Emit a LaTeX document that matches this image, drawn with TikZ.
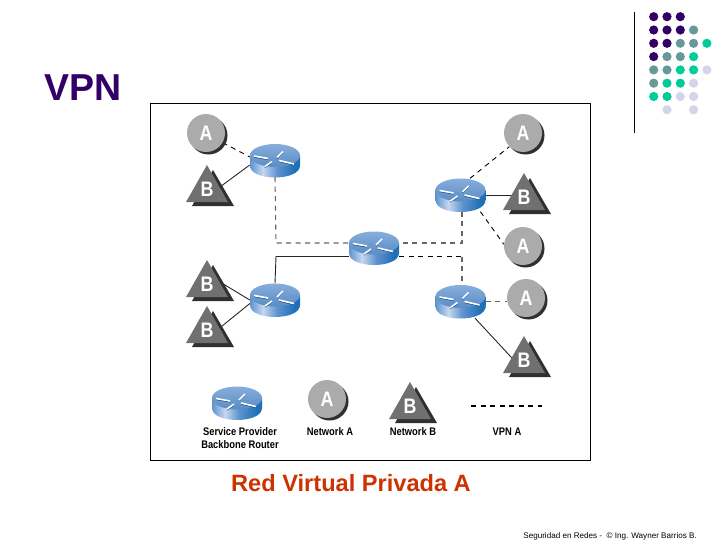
\documentclass[tikz,border=0pt]{standalone}
\usepackage{fontspec}
\usetikzlibrary{backgrounds}
\setmainfont{Liberation Sans}
\newfontfamily\narrowfont[FakeStretch=.85]{Liberation Sans}
\definecolor{titleink}{HTML}{330066}
\definecolor{dotteal}{HTML}{669999}
\definecolor{dotgreen}{HTML}{00CC99}
\definecolor{dotlilac}{HTML}{D4D4EA}
\definecolor{redink}{HTML}{CC3300}
\definecolor{circgray}{HTML}{ABABAB}
\definecolor{trigray}{HTML}{707070}
\definecolor{shadowink}{HTML}{303030}
\definecolor{coreink}{HTML}{666666}
\definecolor{routerdark}{HTML}{1F6FB8}
\definecolor{routerlight}{HTML}{C6D7EE}
\definecolor{routermid}{HTML}{5E93CF}
\pgfdeclarehorizontalshading{routerside}{100bp}{color(0bp)=(routermid); color(25bp)=(routermid);
  color(38bp)=(routerlight); color(52bp)=(routermid); color(70bp)=(routerdark); color(75bp)=(routerdark); color(100bp)=(routerdark)}
\tikzset{routerbox/.style={minimum width=50pt,minimum height=33pt,inner sep=0pt},
  neta/.style={circle,fill=circgray,minimum size=38pt,inner sep=0pt,text=white,font=\narrowfont\fontsize{21}{21}\selectfont\bfseries},
  netb/.style={minimum width=20pt,minimum height=26pt,inner sep=0pt,text=white,font=\narrowfont\fontsize{21}{21}\selectfont\bfseries},
  legendtext/.style={font=\narrowfont\fontsize{11}{13}\selectfont\bfseries,align=center,inner sep=0pt},
  dot/.style={radius=4.6pt},
  vpnline/.style={dash pattern=on 5pt off 4.5pt,line width=.9pt},
  coreline/.style={vpnline,coreink,line width=1.1pt},
  solidline/.style={line width=.9pt,black!85},
  routerpic/.pic={
    \shade[shading=routerside] (-25,-5) -- (-25,5) .. controls (-25,21) and (25,21) .. (25,5) -- (25,-5) -- cycle;
    \shade[top color=routermid!75!white,bottom color=routermid!95!black] (0,-5) ellipse [x radius=25,y radius=11.5];
    \foreach \ax/\ay/\bx/\by in {-21/-4.5/-7/-2,-3/1/-10/6,2/-3/8/-9,4/0/19/3.5} {
      \draw[routerdark!70!black,line width=.8pt] (\ax,\ay+1.1) -- (\bx,\by+1.1);
      \draw[white,line width=1.6pt] (\ax,\ay) -- (\bx,\by);}
  },
  netbpic/.pic={
    \fill[shadowink] (6,-19) -- (27,17) -- (-15,17) -- cycle;
    \fill[trigray] (0,-24) -- (21,13) -- (-21,13) -- cycle;
  }}

\begin{document}
\begin{tikzpicture}[x=1pt,y=-1pt]
\useasboundingbox (0,0) rectangle (728,546);
% slide furniture
\node[anchor=base west,inner sep=0pt,text=titleink,font=\fontsize{37.5}{37.5}\selectfont\bfseries] (title) at (44,100) {VPN};
\node[anchor=base west,inner sep=0pt,text=redink,font=\fontsize{23.6}{24}\selectfont\bfseries] (caption) at (231,491) {Red Virtual Privada A};
\node[anchor=base east,inner sep=0pt,font=\fontsize{8.1}{8}\selectfont] (footer) at (697,538) {Seguridad en Redes -~~© Ing. Wayner Barrios B.};
\draw[black,line width=1pt] (634,12) -- (634,133);
\foreach \x/\y in {1/1,2/1,3/1,1/2,2/2,3/2,1/3,2/3,1/4} {
  \fill[titleink] (640.4+13.3*\x,3.4+13.3*\y) circle [dot];}
\foreach \x/\y in {4/2,3/3,4/3,2/4,3/4,1/5,2/5,1/6} {
  \fill[dotteal] (640.4+13.3*\x,3.4+13.3*\y) circle [dot];}
\foreach \x/\y in {5/3,4/4,3/5,4/5,2/6,3/6,1/7,2/7} {
  \fill[dotgreen] (640.4+13.3*\x,3.4+13.3*\y) circle [dot];}
\foreach \x/\y in {5/5,4/6,3/7,4/7,2/8,4/8} {
  \fill[dotlilac] (640.4+13.3*\x,3.4+13.3*\y) circle [dot];}
\draw[black,line width=.9pt] (150.5,103) rectangle (590.5,460.5);
% routers
\foreach \name/\x/\y in {rtop/275/160.5,rlow/275/300,rcore/374/248,rright/460.5/195,rdown/460.5/301.5,rkey/237/403} {
  \node[routerbox] (\name) at (\x,\y) {};
  \pic at (\name) {routerpic};}
% networks
\foreach \name/\x/\y in {atop/206/133,aone/523/133,atwo/523/246,athree/526/298,akey/327/399} {
  \fill[shadowink] (\x+2.5,\y+2.5) circle [radius=19];
  \node[neta] (\name) at (\x,\y) {A};}
\foreach \name/\x/\y in {btop/207/189,bmid/207/284,blow/207/330,bone/524/197,btwo/524/360,bkey/410/406} {
  \pic at (\x,\y) {netbpic};
  \node[netb] (\name) at (\x,\y) {B};}
% links
\begin{scope}[on background layer]
\draw[vpnline] (atop.-30) -- (rtop.172);
\draw[solidline] (btop.east) -- (rtop.190);
\draw[solidline] (bmid.20) -- (rlow.west);
\draw[solidline] (blow.east) -- (rlow.188);
\coordinate (jtop) at (276,243);
\coordinate (jlow) at (276,256.5);
\coordinate (jright) at (462,243);
\coordinate (jdown) at (462,256.5);
\draw[coreline] (rtop.south) -- (jtop) -- (jtop -| rcore.west);
\draw[solidline] (rlow.north) -- (jlow) -- (jlow -| rcore.west);
\draw[coreline] (rright.south -| jright) -- (jright) -- (jtop -| rcore.east);
\draw[vpnline] (jlow -| rcore.east) -- (jdown);
\draw[coreline] (jdown) -- (rdown.north -| jdown);
\draw[vpnline] (rright.60) -- (aone.-135);
\draw[solidline] (rright.east) -- (rright.east -| bone.west);
\draw[vpnline] (rright.-40) -- (atwo.175);
\draw[coreline,line width=.8pt] (rdown.east) -- (rdown.east -| athree.west);
\draw[solidline] (rdown.-49) -- (btwo.west);
\end{scope}
% legend
\coordinate (keyleft) at (471,406);
\coordinate (keyright) at (542,406);
\draw[vpnline,line width=1.2pt] (keyleft) -- (keyright);
\node[legendtext] (keyrouter) at (240,438.5) {Service Provider\\Backbone Router};
\node[legendtext] (keya) at (330,432) {Network A};
\node[legendtext] (keyb) at (413,432) {Network B};
\node[legendtext] (keyvpn) at (507,432) {VPN A};
\end{tikzpicture}
\end{document}
